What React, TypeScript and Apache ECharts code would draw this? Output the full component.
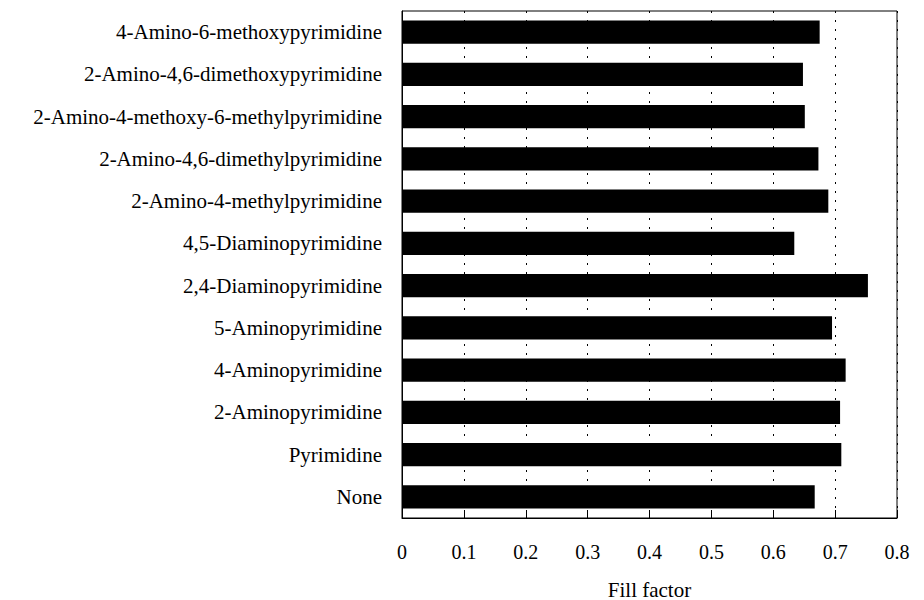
import React, { useEffect, useRef } from "react";
import * as echarts from "echarts";

const categories = [
  "4-Amino-6-methoxypyrimidine",
  "2-Amino-4,6-dimethoxypyrimidine",
  "2-Amino-4-methoxy-6-methylpyrimidine",
  "2-Amino-4,6-dimethylpyrimidine",
  "2-Amino-4-methylpyrimidine",
  "4,5-Diaminopyrimidine",
  "2,4-Diaminopyrimidine",
  "5-Aminopyrimidine",
  "4-Aminopyrimidine",
  "2-Aminopyrimidine",
  "Pyrimidine",
  "None",
];

const fillFactor = [0.675, 0.648, 0.651, 0.673, 0.689, 0.634, 0.753, 0.695, 0.717, 0.708, 0.71, 0.667];

const xTicks = [0, 0.1, 0.2, 0.3, 0.4, 0.5, 0.6, 0.7, 0.8];

export default function App() {
  const ref = useRef<HTMLDivElement>(null);
  useEffect(() => {
    if (!ref.current) return;
    const chart = echarts.init(ref.current, null, { renderer: "svg" });
    const font = "Liberation Serif";
    chart.setOption({
      animation: false,
      backgroundColor: "#fff",
      textStyle: { fontFamily: font, color: "#000" },
      grid: {
        left: 402,
        right: 27,
        top: 11,
        bottom: 82,
        containLabel: false,
        outerBoundsMode: "none",
        show: true,
        borderColor: "#000",
        borderWidth: 1,
        backgroundColor: "transparent",
      },
      xAxis: {
        type: "value",
        min: xTicks[0],
        max: xTicks[xTicks.length - 1],
        interval: 0.1,
        name: "Fill factor",
        nameLocation: "middle",
        nameGap: 61,
        nameTextStyle: { fontFamily: font, fontSize: 21, color: "#000" },
        axisLine: { show: true, lineStyle: { color: "#000", width: 1 } },
        axisTick: { show: true, inside: true, length: 8, lineStyle: { color: "#000" } },
        axisLabel: {
          fontFamily: font,
          fontSize: 20,
          color: "#000",
          margin: 24,
          formatter: (v: number) => (v === 0 ? "0" : v.toFixed(1)),
        },
        splitLine: {
          show: true,
          lineStyle: { color: "#000", width: 1, type: [2, 7] },
        },
      },
      yAxis: {
        type: "category",
        data: categories,
        inverse: true,
        axisLine: { show: true, lineStyle: { color: "#000", width: 1 } },
        axisTick: { show: false },
        axisLabel: { fontFamily: font, fontSize: 21, color: "#000", margin: 20 },
        splitLine: { show: false },
      },
      series: [
        {
          type: "bar",
          data: fillFactor,
          barCategoryGap: "45%",
          itemStyle: { color: "#000" },
          silent: true,
        },
      ],
    });
    return () => chart.dispose();
  }, []);
  return <div ref={ref} style={{ width: 924, height: 600, position: "absolute", left: 0, top: 0 }} />;
}
